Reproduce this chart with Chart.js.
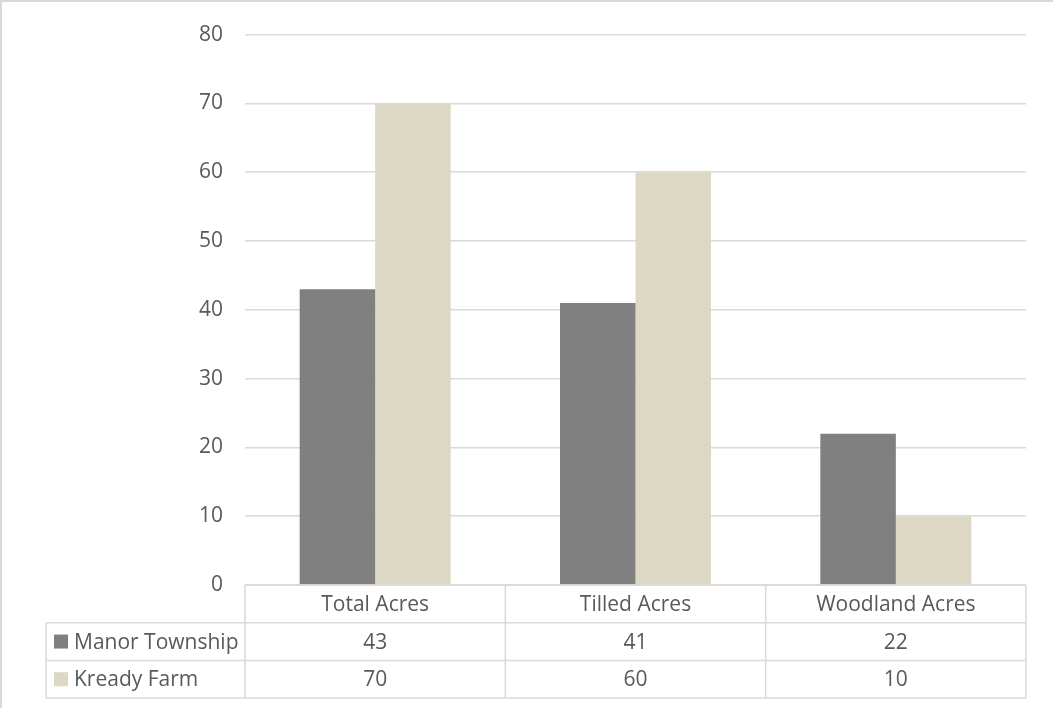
<!DOCTYPE html>
<html>
<head>
<meta charset="utf-8">
<script src="https://cdn.jsdelivr.net/npm/chart.js@4"></script>
<style>
  body { margin: 0; background: #fff; }
  #wrap { position: relative; width: 1053px; height: 708px; box-sizing: border-box; border-left: 2px solid #d9d9d9; border-top: 2px solid #d9d9d9; }
  canvas { position: absolute; left: -2px; top: -2px; }
</style>
</head>
<body>
<div id="wrap"><canvas id="chart" width="1053" height="708"></canvas></div>
<script>
// Chart data
const categories = ["Total Acres", "Tilled Acres", "Woodland Acres"];
const manorTownship = [43, 41, 22];
const kreadyFarm = [70, 60, 10];
const seriesNames = ["Manor Township", "Kready Farm"];
const seriesColors = ["#808080", "#ddd8c4"];

const textColor = "#595959";
const lineColor = "#d9d9d9";
const fontFamily = "'Open Sans', sans-serif";
const fontSize = 21;

// Data table drawn under the plot, lined up with the x scale
const dataTable = {
    id: "dataTable",
    afterDraw(chart) {
        const ctx = chart.ctx;
        const x = chart.scales.x;
        const area = chart.chartArea;
        const rowH = 37.7;
        const top = area.bottom;
        const tableLeft = 46;
        const colW = (x.right - x.left) / categories.length;
        const allData = [manorTownship, kreadyFarm];

        ctx.save();
        ctx.strokeStyle = lineColor;
        ctx.lineWidth = 1.5;
        ctx.beginPath();
        // header row top
        ctx.moveTo(x.left, top); ctx.lineTo(x.right, top);
        // rows
        for (let r = 1; r <= 3; r++) {
            const y = top + r * rowH;
            ctx.moveTo(tableLeft, y); ctx.lineTo(x.right, y);
        }
        // verticals
        ctx.moveTo(tableLeft, top + rowH); ctx.lineTo(tableLeft, top + 3 * rowH);
        for (let c = 0; c <= categories.length; c++) {
            const xx = x.left + c * colW;
            ctx.moveTo(xx, top); ctx.lineTo(xx, top + 3 * rowH);
        }
        ctx.stroke();

        ctx.fillStyle = textColor;
        ctx.font = fontSize + "px " + fontFamily;
        ctx.textAlign = "center";
        ctx.textBaseline = "middle";
        categories.forEach((cat, i) => {
            const cx = x.getPixelForValue(i);
            ctx.fillText(cat, cx, top + rowH / 2 + 1);
            allData.forEach((arr, r) => {
                ctx.fillText(String(arr[i]), cx, top + (r + 1.5) * rowH + 1);
            });
        });

        ctx.textAlign = "left";
        seriesNames.forEach((name, r) => {
            const cy = top + (r + 1.5) * rowH;
            ctx.fillStyle = seriesColors[r];
            ctx.fillRect(tableLeft + 8, cy - 7, 14, 14);
            ctx.fillStyle = textColor;
            ctx.fillText(name, tableLeft + 28, cy + 1);
        });
        ctx.restore();
    }
};

const ctx = document.getElementById("chart").getContext("2d");
const chart = new Chart(ctx, {
    type: "bar",
    data: {
        labels: categories,
        datasets: [
            { label: seriesNames[0], data: manorTownship, backgroundColor: seriesColors[0] },
            { label: seriesNames[1], data: kreadyFarm, backgroundColor: seriesColors[1] }
        ]
    },
    options: {
        responsive: false,
        animation: false,
        layout: { padding: { left: 0, top: 32, right: 27, bottom: 123 } },
        datasets: { bar: { categoryPercentage: 0.58, barPercentage: 1.0 } },
        plugins: {
            legend: { display: false },
            tooltip: { enabled: false }
        },
        scales: {
            x: {
                display: false
            },
            y: {
                min: 0,
                max: 80,
                afterFit: s => { s.width = 245; },
                border: { display: false },
                grid: { color: lineColor, lineWidth: 1.5, drawTicks: false },
                ticks: {
                    stepSize: 10,
                    padding: 22,
                    color: textColor,
                    font: { family: fontFamily, size: fontSize }
                }
            }
        }
    },
    plugins: [dataTable]
});
</script>
</body>
</html>
